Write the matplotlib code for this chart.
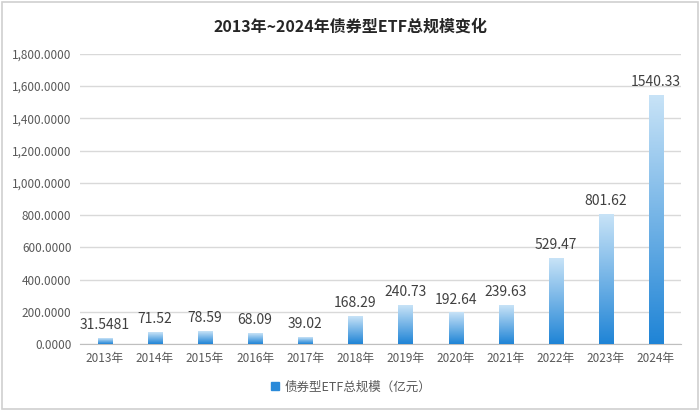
import matplotlib
matplotlib.use("Agg")
import matplotlib.pyplot as plt
import numpy as np
from matplotlib.lines import Line2D
from matplotlib.patches import Rectangle

plt.rcParams['font.family'] = ['Noto Sans CJK SC', 'DejaVu Sans']

years = ["2013年", "2014年", "2015年", "2016年", "2017年", "2018年",
         "2019年", "2020年", "2021年", "2022年", "2023年", "2024年"]
values = [31.5481, 71.52, 78.59, 68.09, 39.02, 168.29,
          240.73, 192.64, 239.63, 529.47, 801.62, 1540.33]
labels = ["31.5481", "71.52", "78.59", "68.09", "39.02", "168.29",
          "240.73", "192.64", "239.63", "529.47", "801.62", "1540.33"]
yticks = [0, 200, 400, 600, 800, 1000, 1200, 1400, 1600, 1800]

fig = plt.figure(figsize=(7, 4.11), dpi=100)
fig.patch.set_facecolor('white')
fig.add_artist(Rectangle((0.003, 0.004), 0.994, 0.992, transform=fig.transFigure,
                         fill=False, edgecolor='#d0d0d0', linewidth=1.2))
ax = fig.add_axes([0.114, 0.163, 0.859, 0.706])

x = np.arange(len(years))
w = 0.28
cmap = matplotlib.colors.LinearSegmentedColormap.from_list('g', ['#1f84d6', '#c8e3f7'])
grad = np.linspace(0, 1, 256).reshape(-1, 1)
for xi, v in zip(x, values):
    ax.imshow(grad, cmap=cmap, origin='lower', aspect='auto',
              extent=[xi - w / 2, xi + w / 2, 0, v], zorder=3, interpolation='bilinear')

for xi, v, lab in zip(x, values, labels):
    ax.text(xi, v + 40, lab, ha='center', va='bottom',
            fontsize=10, color='#404040', zorder=4)

ax.set_xlim(-0.5, len(years) - 0.5)
ax.set_ylim(0, 1800)
ax.set_yticks(yticks)
ax.set_yticklabels([f"{t:,.4f}" for t in yticks], fontsize=8.5, color='#595959')
ax.set_xticks(x)
ax.set_xticklabels(years, fontsize=8.5, color='#595959')
ax.tick_params(length=0, pad=6)
ax.grid(axis='y', color='#d9d9d9', linewidth=1, zorder=0)
ax.set_axisbelow(True)
for s in ['top', 'right', 'left']:
    ax.spines[s].set_visible(False)
ax.spines['bottom'].set_color('#bfbfbf')

fig.text(0.5, 0.935, "2013年~2024年债券型ETF总规模变化", ha='center', va='center',
         fontsize=11.5, fontweight='bold', color='#262626')

handle = Line2D([], [], marker='s', linestyle='', markersize=6,
                markerfacecolor='#2a8ad9', markeredgecolor='#2a8ad9')
fig.legend([handle], ["债券型ETF总规模（亿元）"], loc='center', bbox_to_anchor=(0.5, 0.058),
           frameon=False, fontsize=9, labelcolor='#595959', handletextpad=0.2,
           handlelength=1.0)

fig.savefig("out.png", dpi=100)
